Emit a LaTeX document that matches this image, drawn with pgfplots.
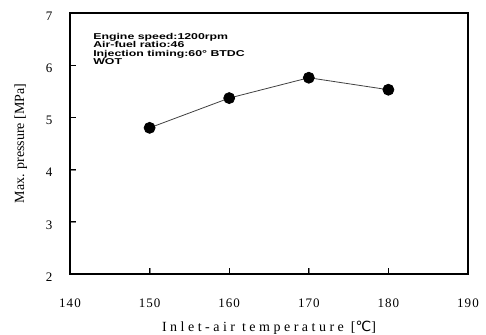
\documentclass[border=0pt]{standalone}
\usepackage{pgfplots}
\pgfplotsset{compat=1.18}
\usepackage{fontspec}
\setmainfont{Liberation Serif}
\newfontfamily\annot[FakeStretch=1.45]{Liberation Sans}
\newfontfamily\dejavu{DejaVu Sans}
\begin{document}
\begin{tikzpicture}
\begin{axis}[
  name=ax,
  scale only axis,
  width=398pt, height=261pt,
  xmin=140, xmax=190, ymin=2, ymax=7,
  xtick={140,150,...,190},
  ytick={2,3,...,7},
  axis line style={line width=1.3pt},
  tick align=inside,
  major tick length=6pt,
  tick pos=left,
  /pgf/number format/assume math mode=true,
  ticklabel style={font=\addfontfeature{LetterSpace=8}\fontsize{13}{15}\selectfont},
  xticklabel style={yshift=-21pt},
  yticklabel style={xshift=-14pt, yshift=-3pt},
  xlabel={Inlet-air temperature [{\dejavu ℃}]},
  ylabel={Max. pressure [MPa]},
  xlabel style={font=\addfontfeature{LetterSpace=25}\fontsize{14}{16}\selectfont, yshift=-7pt},
  ylabel style={font=\fontsize{14}{16}\selectfont, yshift=12pt},
  clip=false,
]
\addplot[black!75, line width=0.8pt, mark=*, mark size=5.5pt, mark options={fill=black, draw=black}]
  coordinates {(150,4.80) (160,5.37) (170,5.76) (180,5.53)};
\node[anchor=north west, align=left, font=\annot\bfseries\fontsize{8.5}{8.6}\selectfont, inner sep=0pt]
  at (axis cs:142.9,6.62) {Engine speed:1200rpm\\Air-fuel ratio:46\\Injection timing:60° BTDC\\WOT};
\draw[line width=0.9pt] (axis cs:150,2) -- (axis cs:150,2.11);
\draw[line width=0.9pt] (axis cs:160,2) -- (axis cs:160,2.11);
\draw[line width=0.9pt] (axis cs:170,2) -- (axis cs:170,2.11);
\draw[line width=0.9pt] (axis cs:180,2) -- (axis cs:180,2.11);
\draw[line width=0.9pt] (axis cs:140,3) -- (axis cs:140.75,3);
\draw[line width=0.9pt] (axis cs:140,4) -- (axis cs:140.75,4);
\draw[line width=0.9pt] (axis cs:140,5) -- (axis cs:140.75,5);
\draw[line width=0.9pt] (axis cs:140,6) -- (axis cs:140.75,6);
\end{axis}
\pgfresetboundingbox
\path (ax.south west) ++(-70pt,-60pt) coordinate (bl);
\path (ax.north east) ++(18pt,13pt) coordinate (tr);
\path[use as bounding box] (bl) rectangle (tr);
\end{tikzpicture}
\end{document}
